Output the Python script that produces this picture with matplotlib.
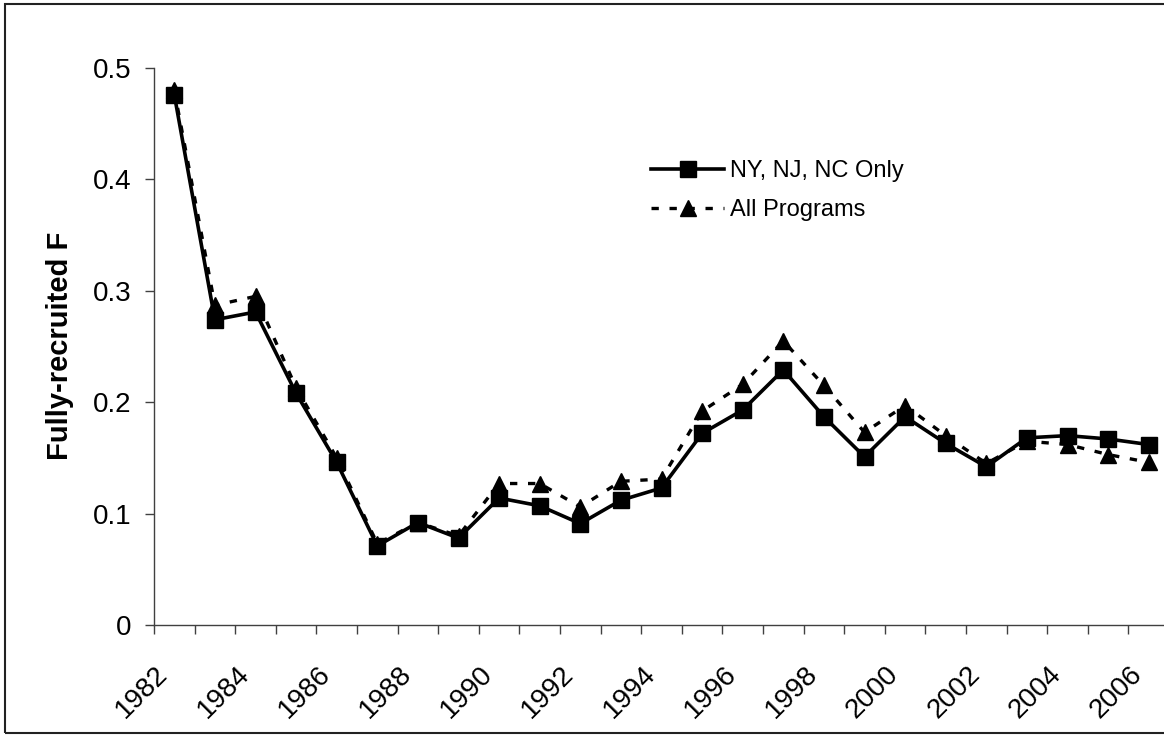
import matplotlib.pyplot as plt
import matplotlib.transforms as mtransforms
from matplotlib.patches import Rectangle

plt.rcParams['font.family'] = ['Liberation Sans', 'DejaVu Sans']

# fully-recruited F by year, two estimates
years = list(range(1982, 2007))
ny_nj_nc = [0.476, 0.274, 0.281, 0.208, 0.146, 0.071, 0.092, 0.078, 0.114, 0.107,
            0.091, 0.112, 0.123, 0.172, 0.193, 0.229, 0.187, 0.151, 0.187, 0.163,
            0.142, 0.168, 0.170, 0.167, 0.162]
all_programs = [0.480, 0.287, 0.295, 0.213, 0.150, 0.073, 0.092, 0.080, 0.127, 0.127,
                0.106, 0.129, 0.131, 0.192, 0.216, 0.255, 0.215, 0.173, 0.197, 0.170,
                0.145, 0.165, 0.162, 0.153, 0.146]
yticks = [0, 0.1, 0.2, 0.3, 0.4, 0.5]
ytick_labels = ['0', '0.1', '0.2', '0.3', '0.4', '0.5']

W, H = 1164, 736
fig = plt.figure(figsize=(W / 100, H / 100), dpi=100)
ax = fig.add_axes([154 / W, 111 / H, 1015 / W, 557 / H])

x = list(range(len(years)))
ax.plot(x, ny_nj_nc, color='black', lw=2.6, marker='s', ms=11,
        label='NY, NJ, NC Only')
ax.plot(x, all_programs, color='black', lw=2.4, dashes=(2.2, 3.2),
        marker='^', ms=12, label='All Programs')

ax.set_xlim(-0.5, len(years) - 0.5)
ax.set_ylim(0, 0.5)
ax.set_yticks(yticks)
ax.set_yticklabels(ytick_labels, fontsize=20)
ax.set_xticks(x[::2])
ax.set_xticklabels([str(y) for y in years[::2]], fontsize=20, rotation=45,
                   ha='right', va='top')
ax.set_xticks([i - 0.5 for i in range(len(years) + 1)], minor=True)

axis_col = '#404040'
for side in ['top', 'right']:
    ax.spines[side].set_visible(False)
for side in ['left', 'bottom']:
    ax.spines[side].set_color(axis_col)
    ax.spines[side].set_linewidth(1.0)
ax.tick_params(axis='x', which='major', length=0, pad=26)
ax.tick_params(axis='x', which='minor', length=6.5, width=1.0, color=axis_col)
ax.tick_params(axis='y', length=6.5, width=1.0, color=axis_col, pad=10)

# nudge rotated year labels sideways
offset = mtransforms.ScaledTranslation(-1 / 100, 0, fig.dpi_scale_trans)
for lab in ax.get_xticklabels():
    lab.set_transform(lab.get_transform() + offset)

fig.text(60 / W, 1 - 346 / H, 'Fully-recruited F', rotation=90,
         fontsize=21, fontweight='bold', ha='center', va='center')

ax.legend(loc='upper left', bbox_to_anchor=(651 / W, 1 - 160 / H),
          bbox_transform=fig.transFigure, frameon=False, fontsize=17,
          handlelength=3.1, handletextpad=0.25, borderpad=0,
          borderaxespad=0, labelspacing=0.72)

# chart frame
fig.add_artist(Rectangle((4.5 / W, 3 / H), 1.2, 729 / H, transform=fig.transFigure,
                         fill=False, lw=1.5, edgecolor='#222222'))

fig.savefig('out.png', dpi=100)
